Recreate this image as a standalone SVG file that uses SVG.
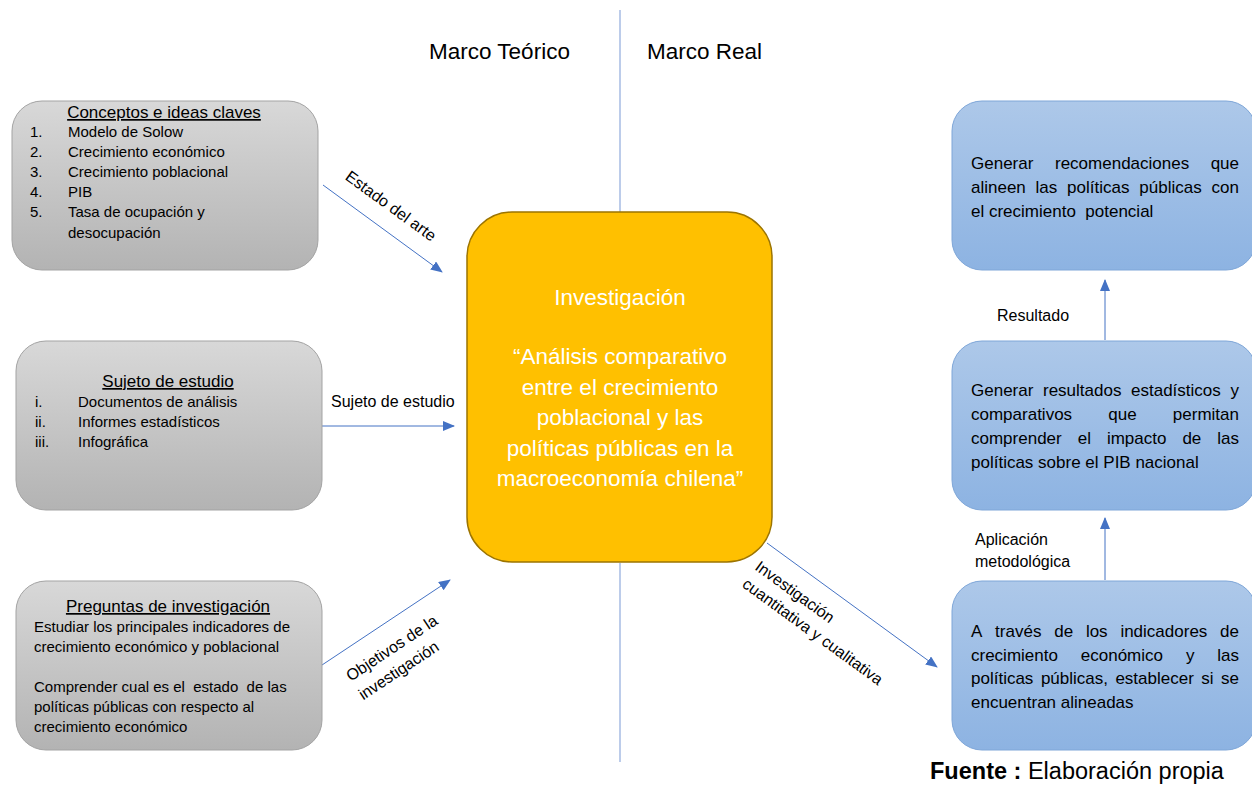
<svg xmlns="http://www.w3.org/2000/svg" width="1252" height="786" viewBox="0 0 1252 786">
<defs>
<linearGradient id="gGray" x1="0" y1="0" x2="0" y2="1">
<stop offset="0" stop-color="#D8D8D8"/>
<stop offset="1" stop-color="#B3B3B3"/>
</linearGradient>
<linearGradient id="gBlue" x1="0" y1="0" x2="0" y2="1">
<stop offset="0" stop-color="#ADC8E9"/>
<stop offset="1" stop-color="#8DB3E2"/>
</linearGradient>
<marker id="arr" markerWidth="12" markerHeight="10" refX="11" refY="5" orient="auto" markerUnits="userSpaceOnUse">
<path d="M0,0 L12,5 L0,10 z" fill="#4472C4"/>
</marker>
<style>
.t{font-family:"Liberation Sans",Arial,sans-serif;fill:#000}
.g{font-size:15px}
.ttl{font-size:17px;text-decoration:underline;text-anchor:middle}
.b{font-size:17px}
.lbl{font-size:16px}
.pre{white-space:pre}
.gray{fill:url(#gGray);stroke:#A3A3A3;stroke-width:1}
.blue{fill:url(#gBlue);stroke:#7EA6D8;stroke-width:1}
.con{stroke:#4472C4;stroke-width:1;fill:none}
.div{stroke:#8FAADC;stroke-width:1.2;fill:none}
</style>
</defs>
<rect width="1252" height="786" fill="#FFFFFF"/>

<g id="dividers">
<line class="div" x1="620" y1="10" x2="620" y2="212"/>
<line class="div" x1="620" y1="563" x2="620" y2="762"/>
</g>

<text class="t" x="429" y="59" font-size="22.5">Marco Teórico</text>
<text class="t" x="647" y="59" font-size="22.5">Marco Real</text>

<g id="connectors">
<line class="con" x1="323" y1="185" x2="442" y2="272" marker-end="url(#arr)"/>
<line class="con" x1="322" y1="426" x2="454" y2="426" marker-end="url(#arr)"/>
<line class="con" x1="322" y1="665" x2="450" y2="580" marker-end="url(#arr)"/>
<line class="con" x1="767" y1="543" x2="937" y2="667" marker-end="url(#arr)"/>
<line class="con" x1="1105" y1="340" x2="1105" y2="280" marker-end="url(#arr)"/>
<line class="con" x1="1105" y1="580" x2="1105" y2="518" marker-end="url(#arr)"/>
<text class="t lbl" transform="translate(391,206) rotate(36)" y="5.5" text-anchor="middle">Estado del arte</text>
<text class="t lbl" x="331" y="407">Sujeto de estudio</text>
<g transform="translate(351,675) rotate(-33.6)">
<text class="t lbl" x="-4" y="5.5">Objetivos de la</text>
<text class="t lbl" x="-4" y="28">investigación</text>
</g>
<g transform="translate(762,568) rotate(36)">
<text class="t lbl" x="-6" y="5.5">Investigación</text>
<text class="t lbl" x="-6" y="27">cuantitativa y cualitativa</text>
</g>
<text class="t lbl" x="997" y="321">Resultado</text>
<text class="t lbl" x="975" y="545">Aplicación</text>
<text class="t lbl" x="975" y="567">metodológica</text>
</g>

<g id="conceptos">
<rect class="gray" x="12" y="101" width="306" height="169" rx="30"/>
<text class="t ttl" x="164" y="118">Conceptos e ideas claves</text>
<text class="t g" x="30" y="137">1.</text><text class="t g" x="68" y="137">Modelo de Solow</text>
<text class="t g" x="30" y="157">2.</text><text class="t g" x="68" y="157">Crecimiento económico</text>
<text class="t g" x="30" y="177">3.</text><text class="t g" x="68" y="177">Crecimiento poblacional</text>
<text class="t g" x="30" y="197">4.</text><text class="t g" x="68" y="197">PIB</text>
<text class="t g" x="30" y="217">5.</text><text class="t g" x="68" y="217">Tasa de ocupación y</text>
<text class="t g" x="68" y="238">desocupación</text>
</g>

<g id="sujeto">
<rect class="gray" x="16" y="341" width="306" height="169" rx="30"/>
<text class="t ttl" x="168" y="387">Sujeto de estudio</text>
<text class="t g" x="35" y="407">i.</text><text class="t g" x="78" y="407">Documentos de análisis</text>
<text class="t g" x="35" y="427">ii.</text><text class="t g" x="78" y="427">Informes estadísticos</text>
<text class="t g" x="35" y="447">iii.</text><text class="t g" x="78" y="447">Infográfica</text>
</g>

<g id="preguntas">
<rect class="gray" x="16" y="581" width="306" height="169" rx="30"/>
<text class="t ttl" x="168" y="612">Preguntas de investigación</text>
<text class="t g" x="34" y="632">Estudiar los principales indicadores de</text>
<text class="t g" x="34" y="652">crecimiento económico y poblacional</text>
<text class="t g pre" x="34" y="692">Comprender cual es el  estado  de las</text>
<text class="t g" x="34" y="712">políticas públicas con respecto al</text>
<text class="t g" x="34" y="732">crecimiento económico</text>
</g>

<g id="investigacion">
<rect x="467" y="212" width="305" height="350" rx="45" fill="#FFC000" stroke="#9C7400" stroke-width="1.5"/>
<g class="t" font-size="22.5" text-anchor="middle">
<text x="620" y="305" style="fill:#FFFFFF">Investigación</text>
<text x="620" y="364" style="fill:#FFFFFF">“Análisis comparativo</text>
<text x="620" y="394.5" style="fill:#FFFFFF">entre el crecimiento</text>
<text x="620" y="425" style="fill:#FFFFFF">poblacional y las</text>
<text x="620" y="455.5" style="fill:#FFFFFF">políticas públicas en la</text>
<text x="620" y="486" style="fill:#FFFFFF">macroeconomía chilena”</text>
</g>
</g>

<g id="recomendaciones">
<rect class="blue" x="952" y="101" width="304" height="169" rx="30"/>
<text class="t b" y="169"><tspan x="971">Generar</tspan><tspan x="1055">recomendaciones</tspan></text>
<text class="t b" x="1239" y="169" text-anchor="end">que</text>
<text class="t b" y="193"><tspan x="971">alineen</tspan><tspan x="1035.6">las</tspan><tspan x="1067.1">políticas</tspan><tspan x="1139.3">públicas</tspan></text>
<text class="t b" x="1239" y="193" text-anchor="end">con</text>
<text class="t b pre" x="971" y="217">el crecimiento  potencial</text>
</g>

<g id="resultados">
<rect class="blue" x="952" y="341" width="304" height="169" rx="30"/>
<text class="t b" y="396"><tspan x="971">Generar</tspan><tspan x="1043">resultados</tspan><tspan x="1131">estadísticos</tspan></text>
<text class="t b" x="1239" y="396" text-anchor="end">y</text>
<text class="t b" y="420"><tspan x="971">comparativos</tspan><tspan x="1108.3">que</tspan></text>
<text class="t b" x="1239" y="420" text-anchor="end">permitan</text>
<text class="t b" y="444"><tspan x="971">comprender</tspan><tspan x="1077.7">el</tspan><tspan x="1106.9">impacto</tspan><tspan x="1182.4">de</tspan></text>
<text class="t b" x="1239" y="444" text-anchor="end">las</text>
<text class="t b" x="971" y="468">políticas sobre el PIB nacional</text>
</g>

<g id="indicadores">
<rect class="blue" x="952" y="581" width="304" height="169" rx="30"/>
<text class="t b" y="637"><tspan x="971">A</tspan><tspan x="995.1">través</tspan><tspan x="1054.2">de</tspan><tspan x="1085.9">los</tspan><tspan x="1120.4">indicadores</tspan></text>
<text class="t b" x="1239" y="637" text-anchor="end">de</text>
<text class="t b" y="661"><tspan x="971">crecimiento</tspan><tspan x="1080.8">económico</tspan><tspan x="1185.9">y</tspan></text>
<text class="t b" x="1239" y="661" text-anchor="end">las</text>
<text class="t b" y="684"><tspan x="971">políticas</tspan><tspan x="1040.9">públicas,</tspan><tspan x="1115.4">establecer</tspan><tspan x="1201.3">si</tspan></text>
<text class="t b" x="1239" y="684" text-anchor="end">se</text>
<text class="t b" x="971" y="708">encuentran alineadas</text>
</g>

<text class="t" x="930" y="779" font-size="23.5"><tspan font-weight="bold">Fuente :</tspan> Elaboración propia</text>
</svg>
